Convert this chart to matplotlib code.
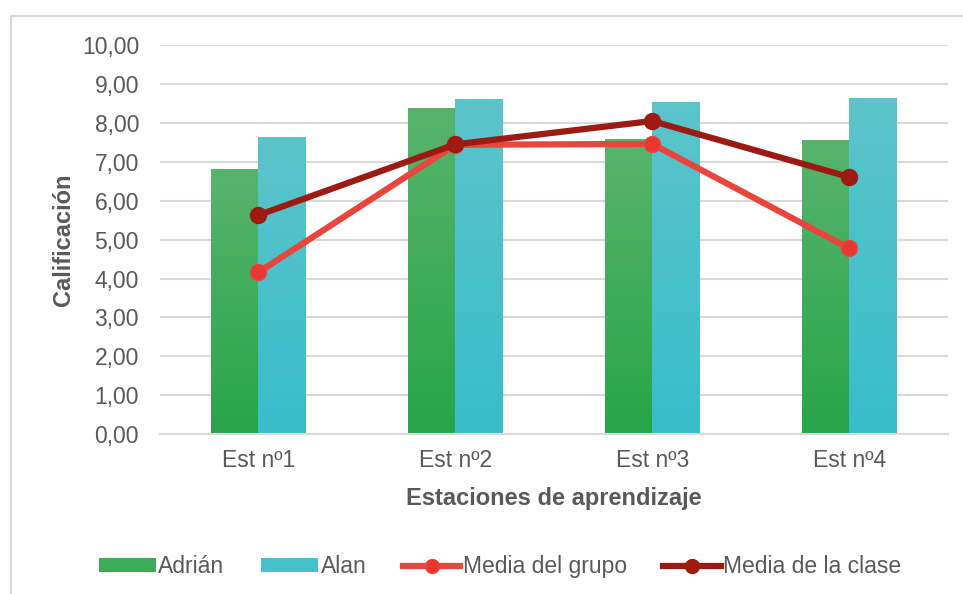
import numpy as np
import matplotlib.pyplot as plt
from matplotlib.colors import LinearSegmentedColormap
from matplotlib.patches import Patch
from matplotlib.lines import Line2D

estaciones = ["Est nº1", "Est nº2", "Est nº3", "Est nº4"]
adrian = [6.81, 8.38, 7.58, 7.56]
alan = [7.63, 8.61, 8.53, 8.64]
media_grupo = [4.16, 7.44, 7.46, 4.78]
media_clase = [5.63, 7.45, 8.05, 6.61]
yticks = np.arange(0, 10.01, 1.0)

plt.rcParams["font.family"] = ["Liberation Sans", "DejaVu Sans"]
gris = "#595959"
verde, turquesa = "#3aad56", "#48c0cb"
rojo, granate = "#e8453c", "#9b1a12"

fig = plt.figure(figsize=(9.63, 5.94), dpi=100)
ax = fig.add_axes([0.166, 0.269, 0.818, 0.655])

x = np.arange(len(estaciones))
w = 0.24

def grad_bars(bars, c_top, c_bot):
    cmap = LinearSegmentedColormap.from_list("g", [c_bot, c_top])
    grad = np.linspace(0, 1, 256).reshape(-1, 1)
    for b in bars:
        bx, by = b.get_x(), b.get_y()
        bw, bh = b.get_width(), b.get_height()
        im = ax.imshow(grad, cmap=cmap, origin="lower", aspect="auto",
                       extent=[bx, bx + bw, by, by + bh], zorder=2)
        im.set_clip_path(b)
        b.set_alpha(0)

b1 = ax.bar(x - w / 2, adrian, w, color=verde, zorder=2)
b2 = ax.bar(x + w / 2, alan, w, color=turquesa, zorder=2)
grad_bars(b1, "#58b46d", "#27a548")
grad_bars(b2, "#5cc4cb", "#38bdca")

ax.plot(x, media_grupo, color=rojo, lw=4.5, marker="o", ms=11.5,
        markerfacecolor="#e8382e", markeredgecolor=rojo, zorder=4)
ax.plot(x, media_clase, color=granate, lw=4.5, marker="o", ms=11.5,
        markerfacecolor="#a01a10", markeredgecolor=granate, zorder=5)

ax.set_xlim(-0.5, len(estaciones) - 0.5)
ax.set_ylim(0, 10)
ax.set_yticks(yticks)
ax.set_yticklabels([f"{v:.2f}".replace(".", ",") for v in yticks])
ax.set_xticks(x)
ax.set_xticklabels(estaciones)
ax.tick_params(length=0, labelsize=16.5, colors=gris)
ax.tick_params(axis="y", pad=15)
ax.tick_params(axis="x", pad=11)
ax.yaxis.grid(True, color="#d9d9d9", lw=1.5, zorder=0)
ax.set_axisbelow(True)
for s in ["top", "right", "left"]:
    ax.spines[s].set_visible(False)
ax.spines["bottom"].set_color("#d9d9d9")
ax.spines["bottom"].set_linewidth(1.5)

ax.set_ylabel("Calificación", fontsize=17, fontweight="bold", color=gris)
ax.yaxis.set_label_coords(-0.108, 0.5)
ax.set_xlabel("Estaciones de aprendizaje", fontsize=17, fontweight="bold", color=gris)
ax.xaxis.set_label_coords(0.5, -0.136)

handles = [
    Patch(facecolor=verde, label="Adrián"),
    Patch(facecolor=turquesa, label="Alan"),
    Line2D([], [], color=rojo, lw=4.5, marker="o", ms=10, markerfacecolor="#e8382e",
           markeredgecolor=rojo, label="Media del grupo"),
    Line2D([], [], color=granate, lw=4.5, marker="o", ms=10, markerfacecolor="#a01a10",
           markeredgecolor=granate, label="Media de la clase"),
]
fig.legend(handles=handles, loc="center", bbox_to_anchor=(0.519, 0.046),
           bbox_transform=fig.transFigure, ncol=4, frameon=False,
           fontsize=16.5, labelcolor=gris, handlelength=2.5, handleheight=0.55,
           handletextpad=0.1, columnspacing=1.6)

fig.patches.append(plt.Rectangle((0.011, -0.01), 1.0, 0.983, transform=fig.transFigure,
                                 fill=False, edgecolor="#d9d9d9", lw=1.5))

fig.savefig("out.png", dpi=100)
